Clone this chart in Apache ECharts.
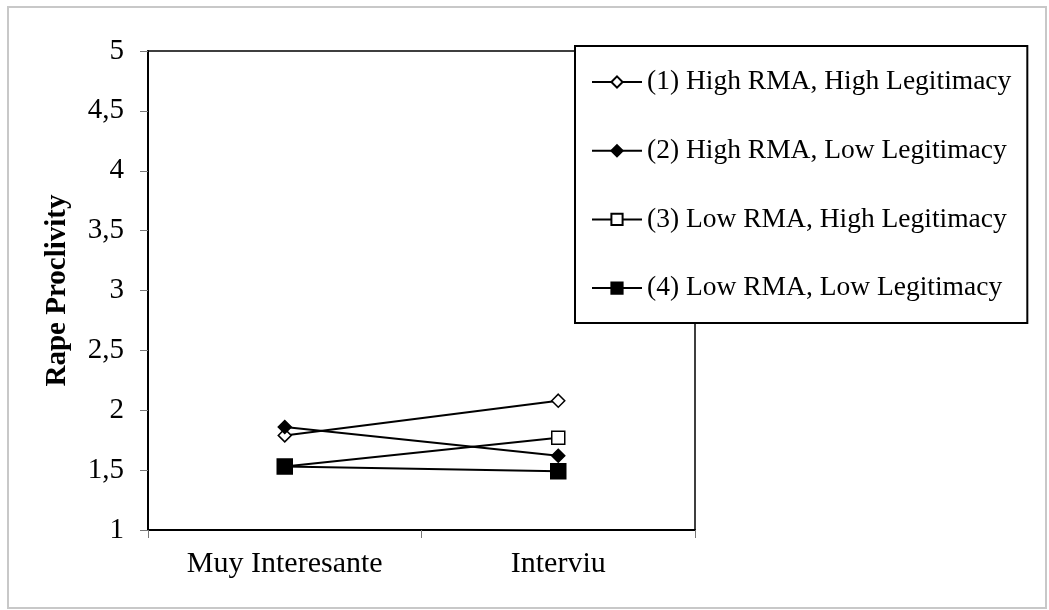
<!DOCTYPE html>
<html><head><meta charset="utf-8">
<script src="https://cdn.jsdelivr.net/npm/echarts@6/dist/echarts.min.js"></script>
<style>html,body{margin:0;padding:0;background:#fff}#c{width:1049px;height:610px}</style>
</head><body><div id="c"></div>
<script>
const categories = ['Muy Interesante', 'Interviu'];
const seriesNames = ['(1) High RMA, High Legitimacy', '(2) High RMA, Low Legitimacy', '(3) Low RMA, High Legitimacy', '(4) Low RMA, Low Legitimacy'];
const s1 = [1.79, 2.08];
const s2 = [1.86, 1.62];
const s3 = [1.53, 1.77];
const s4 = [1.53, 1.49];
const yTicks = [1, 1.5, 2, 2.5, 3, 3.5, 4, 4.5, 5];

const font = 'Liberation Serif, Times New Roman, serif';
const chart = echarts.init(document.getElementById('c'));
function mk(name, data, symbol, size, filled) {
  return {
    name, type: 'line', data, symbol, symbolSize: size,
    lineStyle: { color: '#000', width: 2 },
    itemStyle: { color: filled ? '#000' : '#fff', borderColor: '#000', borderWidth: 1.5 },
    emphasis: { disabled: true }, animation: false
  };
}
chart.setOption({
  animation: false,
  graphic: [{ type: 'rect', shape: { x: 8, y: 7, width: 1038, height: 601 }, style: { fill: 'none', stroke: '#c8c8c8', lineWidth: 2 } }],
  grid: { left: 148, top: 51, width: 547, height: 479, show: true, borderColor: '#000', borderWidth: 1.5, backgroundColor: 'transparent' },
  legend: {
    orient: 'vertical', left: 575, top: 46,
    padding: [19, 16, 18, 16], itemGap: 34.7, itemWidth: 50, itemHeight: 14,
    borderColor: '#000', borderWidth: 2, backgroundColor: '#fff',
    textStyle: { fontFamily: font, fontSize: 27.5, lineHeight: 34, color: '#000' },
    data: seriesNames
  },
  xAxis: {
    type: 'category', data: categories, boundaryGap: true,
    axisLine: { lineStyle: { color: '#000', width: 2 } },
    axisTick: { show: true, length: 8, lineStyle: { color: '#777' } },
    axisLabel: { fontFamily: font, fontSize: 30, color: '#000', margin: 19 }
  },
  yAxis: {
    type: 'value', min: 1, max: 5, interval: 0.5,
    name: 'Rape Proclivity', nameLocation: 'middle', nameGap: 76, nameRotate: 90,
    nameTextStyle: { fontFamily: font, fontSize: 29, fontWeight: 'bold', color: '#000' },
    axisLine: { show: true, lineStyle: { color: '#000', width: 2 } },
    axisTick: { show: true, length: 8, lineStyle: { color: '#777' } },
    splitLine: { show: false },
    axisLabel: { fontFamily: font, fontSize: 29, color: '#000', margin: 24, formatter: v => String(v).replace('.', ',') }
  },
  series: [
    mk(seriesNames[0], s1, 'diamond', 13, false),
    mk(seriesNames[1], s2, 'diamond', 13, true),
    mk(seriesNames[2], s3, 'rect', 13, false),
    mk(seriesNames[3], s4, 'rect', 15, true)
  ]
});
</script></body></html>
